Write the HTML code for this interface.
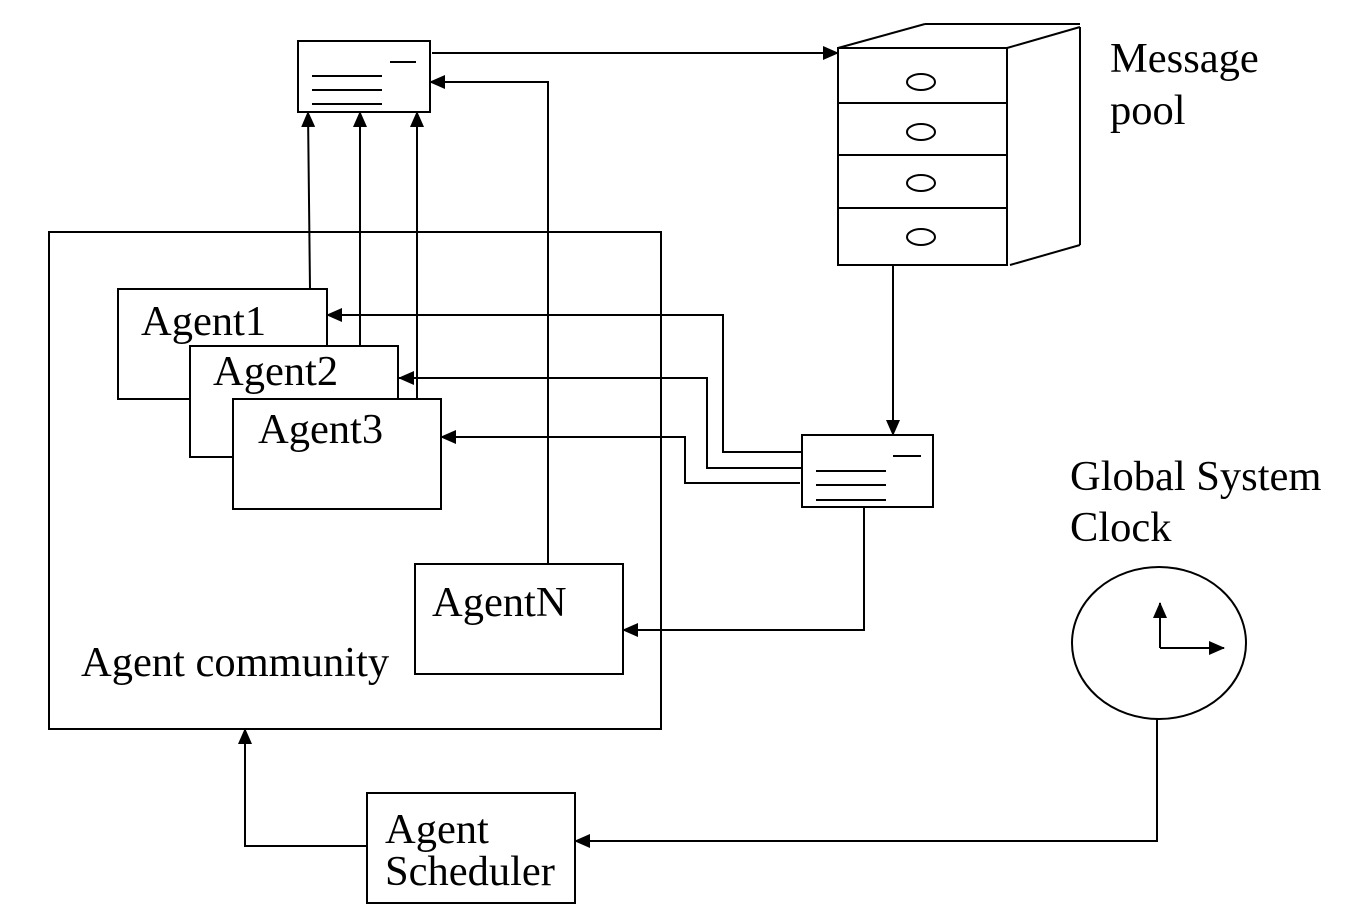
<!DOCTYPE html>
<html><head><meta charset="utf-8"><style>
html,body{margin:0;padding:0;background:#fff;}
svg{display:block;}
text{font-family:"Liberation Serif",serif;font-size:42.5px;fill:#000;}
</style></head><body>
<svg width="1367" height="917" viewBox="0 0 1367 917" xmlns="http://www.w3.org/2000/svg">
<defs>
<marker id="a" markerWidth="16" markerHeight="14" refX="15" refY="7" orient="auto" markerUnits="userSpaceOnUse">
<path d="M0,0 L16,7 L0,14 Z" fill="#000"/>
</marker>
</defs>
<g fill="none" stroke="#000" stroke-width="2">
<rect x="298" y="41" width="132" height="71" fill="#fff"/>
<line x1="390" y1="62" x2="416" y2="62"/>
<line x1="312" y1="76" x2="382" y2="76"/>
<line x1="312" y1="90" x2="382" y2="90"/>
<line x1="312" y1="104" x2="382" y2="104"/>
<line x1="432" y1="53" x2="838" y2="53" marker-end="url(#a)"/>
<rect x="838" y="48" width="169" height="217"/>
<line x1="838" y1="103" x2="1007" y2="103"/>
<line x1="838" y1="155" x2="1007" y2="155"/>
<line x1="838" y1="208" x2="1007" y2="208"/>
<ellipse cx="921" cy="82" rx="14" ry="8"/>
<ellipse cx="921" cy="132" rx="14" ry="8"/>
<ellipse cx="921" cy="183" rx="14" ry="8"/>
<ellipse cx="921" cy="237" rx="14" ry="8"/>
<line x1="838" y1="48" x2="925" y2="24"/>
<line x1="925" y1="24" x2="1080" y2="24"/>
<line x1="1007" y1="48" x2="1080" y2="27"/>
<line x1="1080" y1="27" x2="1080" y2="245"/>
<line x1="1010" y1="265" x2="1080" y2="245"/>
<line x1="893" y1="266" x2="893" y2="435" marker-end="url(#a)"/>
<rect x="49" y="232" width="612" height="497"/>
<line x1="310" y1="289" x2="308" y2="112" marker-end="url(#a)"/>
<line x1="360" y1="346" x2="360" y2="112" marker-end="url(#a)"/>
<line x1="417" y1="398" x2="417" y2="112" marker-end="url(#a)"/>
<rect x="118" y="289" width="209" height="110" fill="#fff"/>
<rect x="190" y="346" width="208" height="111" fill="#fff"/>
<rect x="233" y="399" width="208" height="110" fill="#fff"/>
<line x1="360" y1="289" x2="360" y2="346"/>
<line x1="417" y1="346" x2="417" y2="398"/>
<rect x="415" y="564" width="208" height="110" fill="#fff"/>
<polyline points="548,564 548,82 430,82" marker-end="url(#a)"/>
<rect x="802" y="435" width="131" height="72" fill="#fff"/>
<line x1="893" y1="456" x2="921" y2="456"/>
<line x1="816" y1="471" x2="886" y2="471"/>
<line x1="816" y1="485" x2="886" y2="485"/>
<line x1="816" y1="500" x2="886" y2="500"/>
<polyline points="802,452 723,452 723,315 327,315" marker-end="url(#a)"/>
<polyline points="802,468 707,468 707,378 399,378" marker-end="url(#a)"/>
<polyline points="800,483 685,483 685,437 441,437" marker-end="url(#a)"/>
<polyline points="864,507 864,630 623,630" marker-end="url(#a)"/>
<ellipse cx="1159" cy="643" rx="87" ry="76"/>
<polyline points="1160,648 1160,603" marker-end="url(#a)"/>
<polyline points="1160,648 1224,648" marker-end="url(#a)"/>
<polyline points="1157,719 1157,841 575,841" marker-end="url(#a)"/>
<rect x="367" y="793" width="208" height="110"/>
<polyline points="367,846 245,846 245,729" marker-end="url(#a)"/>
</g>
<text x="1110" y="72">Message</text>
<text x="1110" y="124">pool</text>
<text x="1070" y="490">Global System</text>
<text x="1070" y="541">Clock</text>
<text x="141" y="335">Agent1</text>
<text x="213" y="385">Agent2</text>
<text x="258" y="443">Agent3</text>
<text x="432" y="616">AgentN</text>
<text x="81" y="676">Agent community</text>
<text x="385" y="843">Agent</text>
<text x="385" y="885">Scheduler</text>
</svg>
</body></html>
